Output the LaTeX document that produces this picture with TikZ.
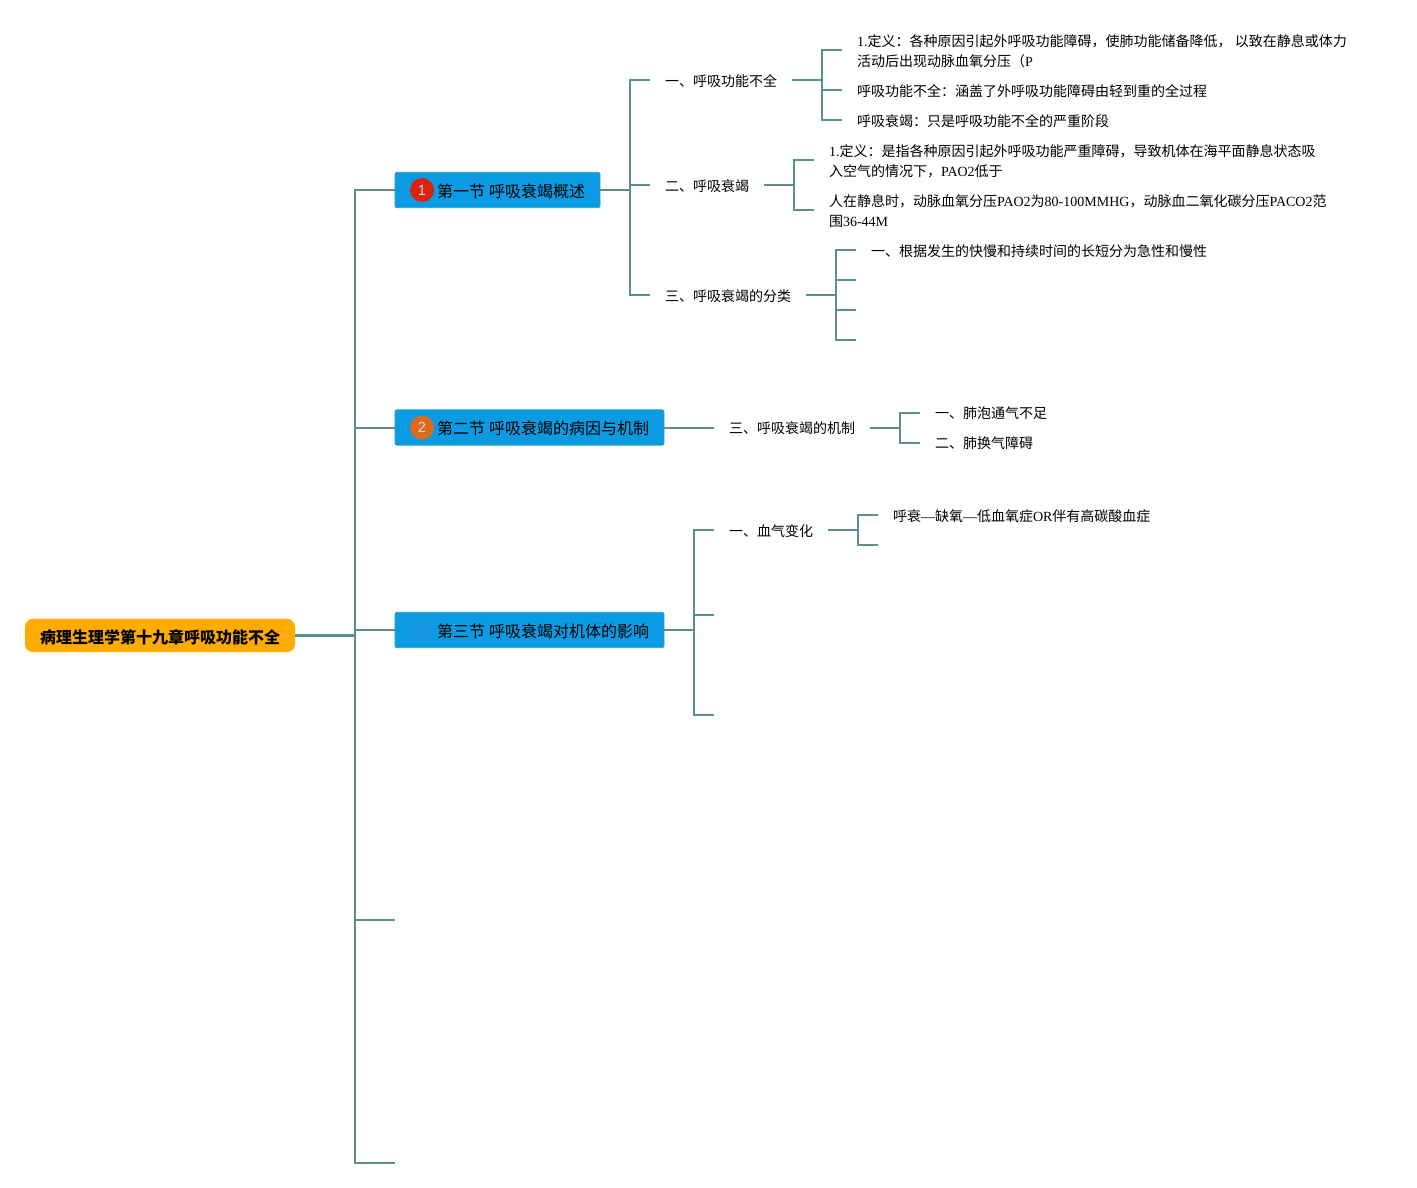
\documentclass[tikz,border=0pt]{standalone}
\usepackage{fontspec}
\setmainfont{Liberation Serif}
\newfontfamily\cjk{Noto Sans CJK SC}
\newfontfamily\digitfont{Liberation Sans}
\newcommand{\zh}[1]{{\cjk #1}}
\definecolor{linecol}{HTML}{5B9189}
\definecolor{boxcol}{HTML}{0A9BE2}
\definecolor{boxline}{HTML}{2BA3B5}
\definecolor{rootcol}{HTML}{FFAB00}
\definecolor{badgered}{HTML}{D9230F}
\definecolor{badgeorange}{HTML}{DE6A1C}
\definecolor{badgeblue}{HTML}{1596DF}
\tikzset{
 conn/.style={draw=linecol,line width=1.5pt},
 rootbox/.style={fill=rootcol,rounded corners=6pt,outer sep=0pt,minimum width=202.5pt,minimum height=25pt,inner sep=0pt,text height=12.9pt,text depth=1.44pt,font=\fontsize{12}{15}\selectfont\cjk\bfseries},
 secbox/.style={anchor=west,fill=boxcol,draw=boxline,line width=0.6pt,outer sep=0pt,rounded corners=1.5pt,minimum height=26.5pt,inner xsep=11.25pt,inner ysep=0pt,text height=12pt,text depth=1.44pt,font=\fontsize{12}{15}\selectfont},
 badge/.style={circle,minimum size=18pt,inner sep=0pt,text=white!70!gray,font=\fontsize{11}{13}\selectfont\digitfont},
 leaf/.style={anchor=west,yshift=-0.75pt,outer sep=0pt,inner xsep=11.25pt,inner ysep=0pt,align=left,font=\fontsize{10.5}{15}\selectfont},
 up/.style={yshift=0.75pt},
}
\begin{document}
\begin{tikzpicture}[x=0.75pt,y=-0.75pt]
 \useasboundingbox (0,0) rectangle (1417,1188);
 \node[rootbox] (root) at (160,635.5) {病理生理学第十九章呼吸功能不全}; %root
 \node[secbox] (secA) at (395,190) {\hspace*{20.25pt}\zh{第一节} \zh{呼吸衰竭概述}};
 \node[secbox] (secB) at (395,427.5) {\hspace*{20.25pt}\zh{第二节} \zh{呼吸衰竭的病因与机制}};
 \node[secbox] (secC) at (395,630) {\hspace*{20.25pt}\zh{第三节} \zh{呼吸衰竭对机体的影响}};
 \node[badge,fill=badgered] (badgeA) at (422,190) {1};
 \node[badge,fill=badgeorange] (badgeB) at (422,427.5) {2};
 \node[badge,fill=badgeblue] (badgeC) at (422,630) {};
 \coordinate (secD) at (395,920);
 \coordinate (secE) at (395,1163);
 %section 1
 \node[leaf] (a1) at (650,80) {\zh{一、呼吸功能不全}};
 \node[leaf] (a2) at (650,185) {\zh{二、呼吸衰竭}};
 \node[leaf] (a3) at (650,295) {\zh{三、呼吸衰竭的分类}};
 \node[leaf] (a11) at (842,50) {1.\zh{定义：各种原因引起外呼吸功能障碍，使肺功能储备降低，} \zh{以致在静息或体力}\\\zh{活动后出现动脉血氧分压（}P};
 \node[leaf] (a12) at (842,90) {\zh{呼吸功能不全：涵盖了外呼吸功能障碍由轻到重的全过程}};
 \node[leaf] (a13) at (842,120) {\zh{呼吸衰竭：只是呼吸功能不全的严重阶段}};
 \node[leaf] (a21) at (814,160) {1.\zh{定义：是指各种原因引起外呼吸功能严重障碍，导致机体在海平面静息状态吸}\\\zh{入空气的情况下，}PAO2\zh{低于}};
 \node[leaf] (a22) at (814,210) {\zh{人在静息时，动脉血氧分压}PAO2\zh{为}80-100MMHG\zh{，动脉血二氧化碳分压}PACO2\zh{范}\\\zh{围}36-44M};
 \node[leaf] (a31) at (856,250) {\zh{一、根据发生的快慢和持续时间的长短分为急性和慢性}};
 \coordinate (a32) at (856,281);
 \coordinate (a33) at (856,311);
 \coordinate (a34) at (856,341);
 %section 2
 \node[leaf] (b1) at (714,427.5) {\zh{三、呼吸衰竭的机制}};
 \node[leaf] (b11) at (920,412.5) {\zh{一、肺泡通气不足}};
 \node[leaf] (b12) at (920,442.5) {\zh{二、肺换气障碍}};
 %section 3
 \node[leaf] (c1) at (714,530) {\zh{一、血气变化}};
 \coordinate (c2) at (714,616);
 \coordinate (c3) at (714,716);
 \node[leaf] (c11) at (878,515) {\zh{呼衰}—\zh{缺氧}—\zh{低血氧症}OR\zh{伴有高碳酸血症}};
 \coordinate (c12) at (878,546);
 %connectors
 \draw[conn,line width=2.2pt] (root.east)--(355,635.5);
 \foreach \t in {secA.west,secB.west,secC.west,secD,secE}
  \draw[conn] (355,635.5)|-(\t);
 \foreach \t in {a1.west,a2.west,a3.west}
  \draw[conn] (secA.east)--++(30,0)|-([up]\t);
 \foreach \t in {a11.west,a12.west,a13.west}
  \draw[conn] ([up]a1.east)--++(30,0)|-([up]\t);
 \foreach \t in {a21.west,a22.west}
  \draw[conn] ([up]a2.east)--++(30,0)|-([up]\t);
 \foreach \t in {a31.west,a32,a33,a34}
  \draw[conn] ([up]a3.east)--++(30,0)|-([up]\t);
 \draw[conn] (secB.east)--([up]b1.west);
 \foreach \t in {b11.west,b12.west}
  \draw[conn] ([up]b1.east)--++(30,0)|-([up]\t);
 \foreach \t in {c1.west,c2,c3}
  \draw[conn] (secC.east)--++(30,0)|-([up]\t);
 \foreach \t in {c11.west,c12}
  \draw[conn] ([up]c1.east)--++(30,0)|-([up]\t);
\end{tikzpicture}
\end{document}
